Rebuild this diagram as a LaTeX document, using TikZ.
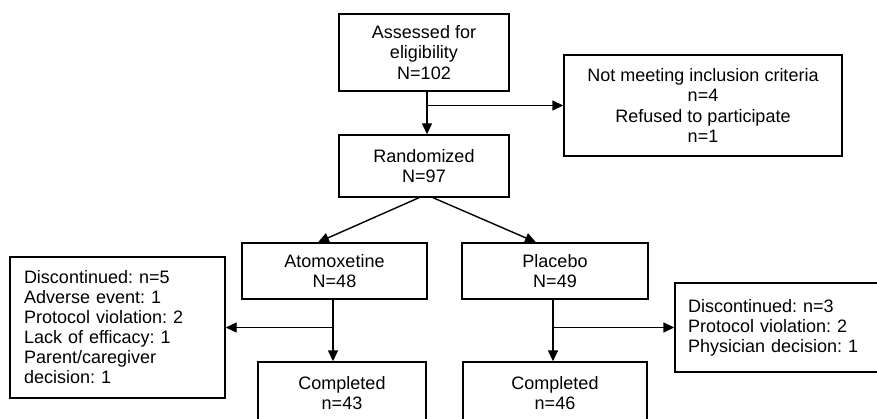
\documentclass[tikz,border=0pt]{standalone}
\usepackage{fontspec}
\setmainfont{Liberation Sans}
\usetikzlibrary{arrows.meta,calc}
\begin{document}
\frenchspacing
\begin{tikzpicture}[x=1pt,y=-1pt,
  box/.style={draw, line width=1.4pt, align=center, inner sep=0pt,
    font=\fontsize{18}{20.5}\selectfont},
  lbox/.style={draw, line width=1.4pt, align=left, inner ysep=0pt,
    font=\fontsize{18}{20}\selectfont},
  arr/.style={line width=1.4pt, -{Triangle[length=11pt,width=10pt]}}]
\clip (0,0) rectangle (877,419);
\fill[white] (0,0) rectangle (877,419);

\node[box, minimum width=170pt, minimum height=77pt] (assess) at (424,52.5)
  {Assessed for\\eligibility\\N=102};
\node[box, minimum width=278pt, minimum height=101pt] (excl) at (703,105.5)
  {Not meeting inclusion criteria\\n=4\\Refused to participate\\n=1};
\node[box, minimum width=170pt, minimum height=62pt] (rand) at (424,166)
  {Randomized\\N=97};
\node[box, minimum width=185pt, minimum height=56pt] (atom) at (334.5,271)
  {Atomoxetine\\N=48};
\node[box, minimum width=186pt, minimum height=56pt] (plac) at (555,271)
  {Placebo\\N=49};
\node[lbox, inner xsep=14pt, text width=187pt, minimum height=141pt] (disc1) at (117.5,327.5)
  {Discontinued: n=5\\Adverse event: 1\\Protocol violation: 2\\Lack of efficacy: 1\\Parent/caregiver\\decision: 1};
\node[lbox, inner xsep=13pt, text width=189pt, minimum height=89pt] (disc2) at (782.5,327.5)
  {Discontinued: n=3\\Protocol violation: 2\\Physician decision: 1\\[20pt]};
\node[box, minimum width=168pt, minimum height=62pt] (comp1) at (342,393)
  {Completed\\n=43};
\node[box, minimum width=184pt, minimum height=62pt] (comp2) at (555,393)
  {Completed\\n=46};

% assessed -> randomized, exclusion branch
\coordinate (a1) at ($(assess.south)+(3,0)$);
\draw[arr] (a1) -- (a1 |- rand.north);
\draw[arr] (a1 |- excl.west) -- (excl.west);

% randomization
\draw[arr] ($(rand.south)+(-5,0)$) -- ($(atom.north)+(-16.5,0)$);
\draw[arr] ($(rand.south)+(9,0)$) -- ($(plac.north)+(-19,0)$);

% atomoxetine
\coordinate (b1) at ($(atom.south)+(-1.5,0)$);
\draw[arr] (b1) -- (b1 |- comp1.north);
\draw[arr] (b1 |- disc1.east) -- (disc1.east);

% placebo
\coordinate (c1) at ($(plac.south)+(-2,0)$);
\draw[arr] (c1) -- (c1 |- comp2.north);
\draw[arr] (c1 |- disc2.west) -- (disc2.west);
\end{tikzpicture}
\end{document}
